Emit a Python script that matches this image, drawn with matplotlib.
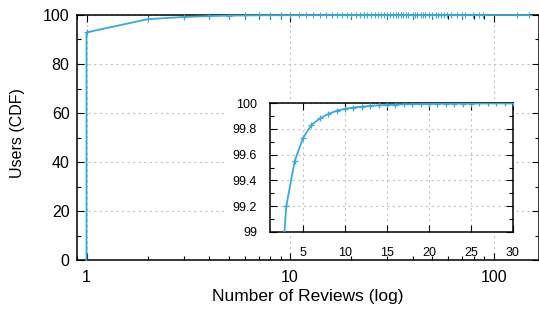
import matplotlib
matplotlib.use("Agg")
import matplotlib.pyplot as plt
from matplotlib.patches import Rectangle
from matplotlib.ticker import MultipleLocator, LogLocator, NullFormatter, FixedLocator

plt.rcParams['font.family'] = ['Liberation Sans', 'DejaVu Sans']

# Number of reviews per user (x) and cumulative share of users in % (y)
reviews = [1, 2, 3, 4, 5, 6, 7, 8, 9, 10, 11, 12, 13, 14, 15, 16, 17, 18, 19, 20,
           21, 22, 23, 24, 25, 26, 27, 28, 29, 30, 31, 32, 33, 34, 35, 36, 37, 38,
           40, 41, 42, 44, 45, 46, 48, 50, 52, 53, 55, 57, 59, 62, 66, 70, 72, 79,
           85, 89, 130, 149]
cdf = [92.9, 98.3, 99.2, 99.55, 99.73, 99.83, 99.88, 99.915, 99.94, 99.955,
       99.965, 99.972, 99.978, 99.982, 99.985, 99.988, 99.990, 99.991, 99.992, 99.993,
       99.994, 99.9945, 99.995, 99.9955, 99.996, 99.9965, 99.997, 99.9972, 99.9975, 99.9978,
       99.998, 99.9982, 99.9984, 99.9986, 99.9988, 99.999, 99.9991, 99.9992,
       99.9993, 99.9994, 99.9995, 99.9995, 99.9996, 99.9996, 99.9997, 99.9997, 99.9998, 99.9998,
       99.9998, 99.9999, 99.9999, 99.9999, 99.9999, 99.9999, 99.9999, 100.0,
       100.0, 100.0, 100.0, 100.0]
start_x, start_y = 1, 0.0

main_yticks = [0, 20, 40, 60, 80, 100]
main_xticks = [1, 10, 100]
inset_xticks = [5, 10, 15, 20, 25, 30]
inset_yticks = [99, 99.2, 99.4, 99.6, 99.8, 100]
inset_ylabels = ['99', '99.2', '99.4', '99.6', '99.8', '100']

color = '#3aa9dc'
grid_color = '#c4c4c4'
W, H = 539, 314
fig = plt.figure(figsize=(W / 100, H / 100), dpi=100)

L, R, T, B = 76.5, 539, 15, 260
ax = fig.add_axes([L / W, 1 - B / H, (R - L) / W, (B - T) / H])
ax.set_axisbelow(True)
ax.set_xscale('log')
ax.set_xlim(0.893, 167)
ax.set_ylim(0, 100)
ax.plot([start_x] + reviews, [start_y] + cdf, color=color, lw=1.3, zorder=3, clip_on=False)
ax.plot(reviews, cdf, ls='none', marker='+', ms=4, mew=0.8, color=color, zorder=3, clip_on=False)
ax.set_yticks(main_yticks)
ax.yaxis.set_minor_locator(MultipleLocator(10))
ax.xaxis.set_major_locator(FixedLocator(main_xticks))
ax.set_xticklabels([str(v) for v in main_xticks])
ax.xaxis.set_minor_locator(LogLocator(base=10, subs=range(2, 10)))
ax.xaxis.set_minor_formatter(NullFormatter())
ax.tick_params(which='both', direction='in', top=True, right=True, labelsize=11.5, width=0.8)
ax.tick_params(which='major', length=5)
ax.tick_params(which='minor', length=3)
ax.tick_params(axis='y', pad=5)
ax.tick_params(axis='x', pad=7)
ax.grid(True, which='major', color=grid_color, ls=(0, (2, 3)), lw=0.8)
for s in ax.spines.values():
    s.set_linewidth(1.1)
ax.set_xlabel('Number of Reviews (log)', fontsize=12.5)
ax.set_ylabel('Users (CDF)', fontsize=11.5)
ax.xaxis.set_label_coords((308 - L) / (R - L), 1 - (297 - T) / (B - T))
ax.yaxis.set_label_coords((18 - L) / (R - L), 1 - (133.5 - T) / (B - T))
ax.xaxis.label.set_va('center')
ax.yaxis.label.set_va('center')

# white area behind inset and its y tick labels
fig.add_artist(Rectangle((225 / W, 1 - 232 / H), (513 - 225) / W, (232 - 103) / H,
                         transform=fig.transFigure, facecolor='white', edgecolor='none', zorder=1.5))

iL, iR, iT, iB = 269.5, 513, 103, 232
ia = fig.add_axes([iL / W, 1 - iB / H, (iR - iL) / W, (iB - iT) / H], zorder=2)
ia.set_axisbelow(True)
ia.set_xlim(1, 30)
ia.set_ylim(99, 100)
ia.plot(reviews, cdf, color=color, lw=1.3, marker='+', ms=4, mew=0.9, zorder=3)
ia.set_xticks(inset_xticks)
ia.set_yticks(inset_yticks)
ia.set_yticklabels(inset_ylabels)
ia.yaxis.set_minor_locator(MultipleLocator(0.1))
ia.tick_params(which='both', direction='in', top=True, right=True, labelsize=9, width=0.8)
ia.tick_params(which='major', length=5)
ia.tick_params(which='minor', length=3)
ia.tick_params(axis='x', pad=11)
ia.tick_params(axis='y', pad=9)
ia.grid(True, which='major', color=grid_color, ls=(0, (2, 3)), lw=0.8)
for s in ia.spines.values():
    s.set_linewidth(1.1)

fig.savefig('out.png', dpi=100)
